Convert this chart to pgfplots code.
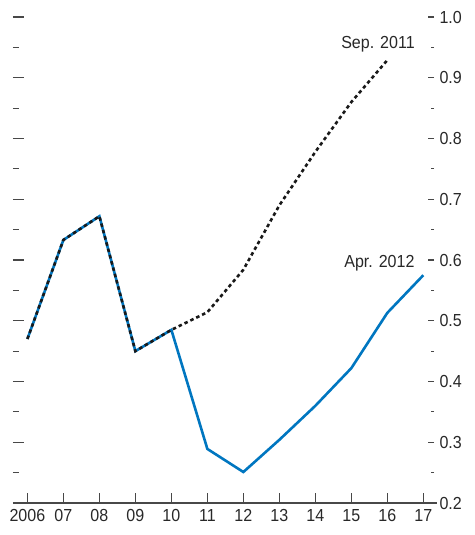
\documentclass[border=0pt]{standalone}
\usepackage{fontspec}
\setmainfont{Liberation Sans}[FakeStretch=0.92]
\usepackage{pgfplots}
\pgfplotsset{compat=1.18}
\definecolor{imfblue}{RGB}{0,118,192}
\definecolor{txt}{RGB}{40,40,40}
\begin{document}
\begin{tikzpicture}
\pgfplotsset{
  base/.style={
    at={(0,0)}, anchor=south west,
    scale only axis, width=424bp, height=486bp,
    xmin=2005.6, xmax=2017.38, ymin=0.2, ymax=1.0,
    font=\fontsize{17.5}{20}\selectfont, tick label style={text=txt},
  }
}
% left ticks
\begin{axis}[base,
  axis x line=none,
  axis y line*=left, y axis line style={draw=none},
  ytick={0.3,0.4,0.5,0.6,0.7,0.8,0.9,1.0},
  minor ytick={0.25,0.35,0.45,0.55,0.65,0.75,0.85,0.95},
  yticklabels={},
  tick align=inside,
  major tick length=11bp, minor tick length=6bp,
  every tick/.style={txt!85, line width=1.2bp},
]
\end{axis}
% right ticks and labels
\begin{axis}[base,
  axis x line=none,
  axis y line*=right, y axis line style={draw=none},
  ytick={0.2,0.3,0.4,0.5,0.6,0.7,0.8,0.9,1.0},
  yticklabels={0.2,0.3,0.4,0.5,0.6,0.7,0.8,0.9,1.0},
  minor ytick={0.25,0.35,0.45,0.55,0.65,0.75,0.85,0.95},
  tick align=inside,
  major tick length=6bp, minor tick length=3bp,
  major tick style={txt!85, line width=1.2bp, xshift=-3bp},
  minor tick style={txt!85, line width=1.2bp, xshift=-3bp},
  yticklabel style={anchor=west, xshift=-1bp},
]
\end{axis}
% main axis with data
\begin{axis}[base,
  axis x line*=bottom, axis y line=none,
  x axis line style={txt!85, line width=1.2bp, -},
  xtick={2006,2007,2008,2009,2010,2011,2012,2013,2014,2015,2016,2017},
  xticklabels={2006,07,08,09,10,11,12,13,14,15,16,17},
  xticklabel style={yshift=-3bp},
  tick align=inside, major tick length=10bp,
  xtick style={txt!85, line width=1.2bp},
  clip=false,
]
\addplot[imfblue, line width=2.6bp, line join=miter] coordinates {
  (2006,0.470) (2007,0.633) (2008,0.672) (2009,0.450) (2010,0.485)
  (2011,0.289) (2012,0.251) (2013,0.304) (2014,0.360) (2015,0.422)
  (2016,0.513) (2017,0.575)
};
\addplot[black!90, line width=2.6bp, dash pattern=on 3.5bp off 3bp, line join=miter] coordinates {
  (2006,0.470) (2007,0.633) (2008,0.672) (2009,0.450) (2010,0.485)
  (2011,0.514) (2012,0.584) (2013,0.690) (2014,0.778) (2015,0.860)
  (2016,0.929)
};
\node[text=txt, font=\fontsize{17.5}{20}\selectfont] at (axis cs:2015.74,0.956) {Sep. 2011};
\node[text=txt, font=\fontsize{17.5}{20}\selectfont] at (axis cs:2015.78,0.595) {Apr. 2012};
\end{axis}
\pgfresetboundingbox
\path[use as bounding box] (-13bp,-32bp) rectangle (462bp,503bp);
\end{tikzpicture}
\end{document}
